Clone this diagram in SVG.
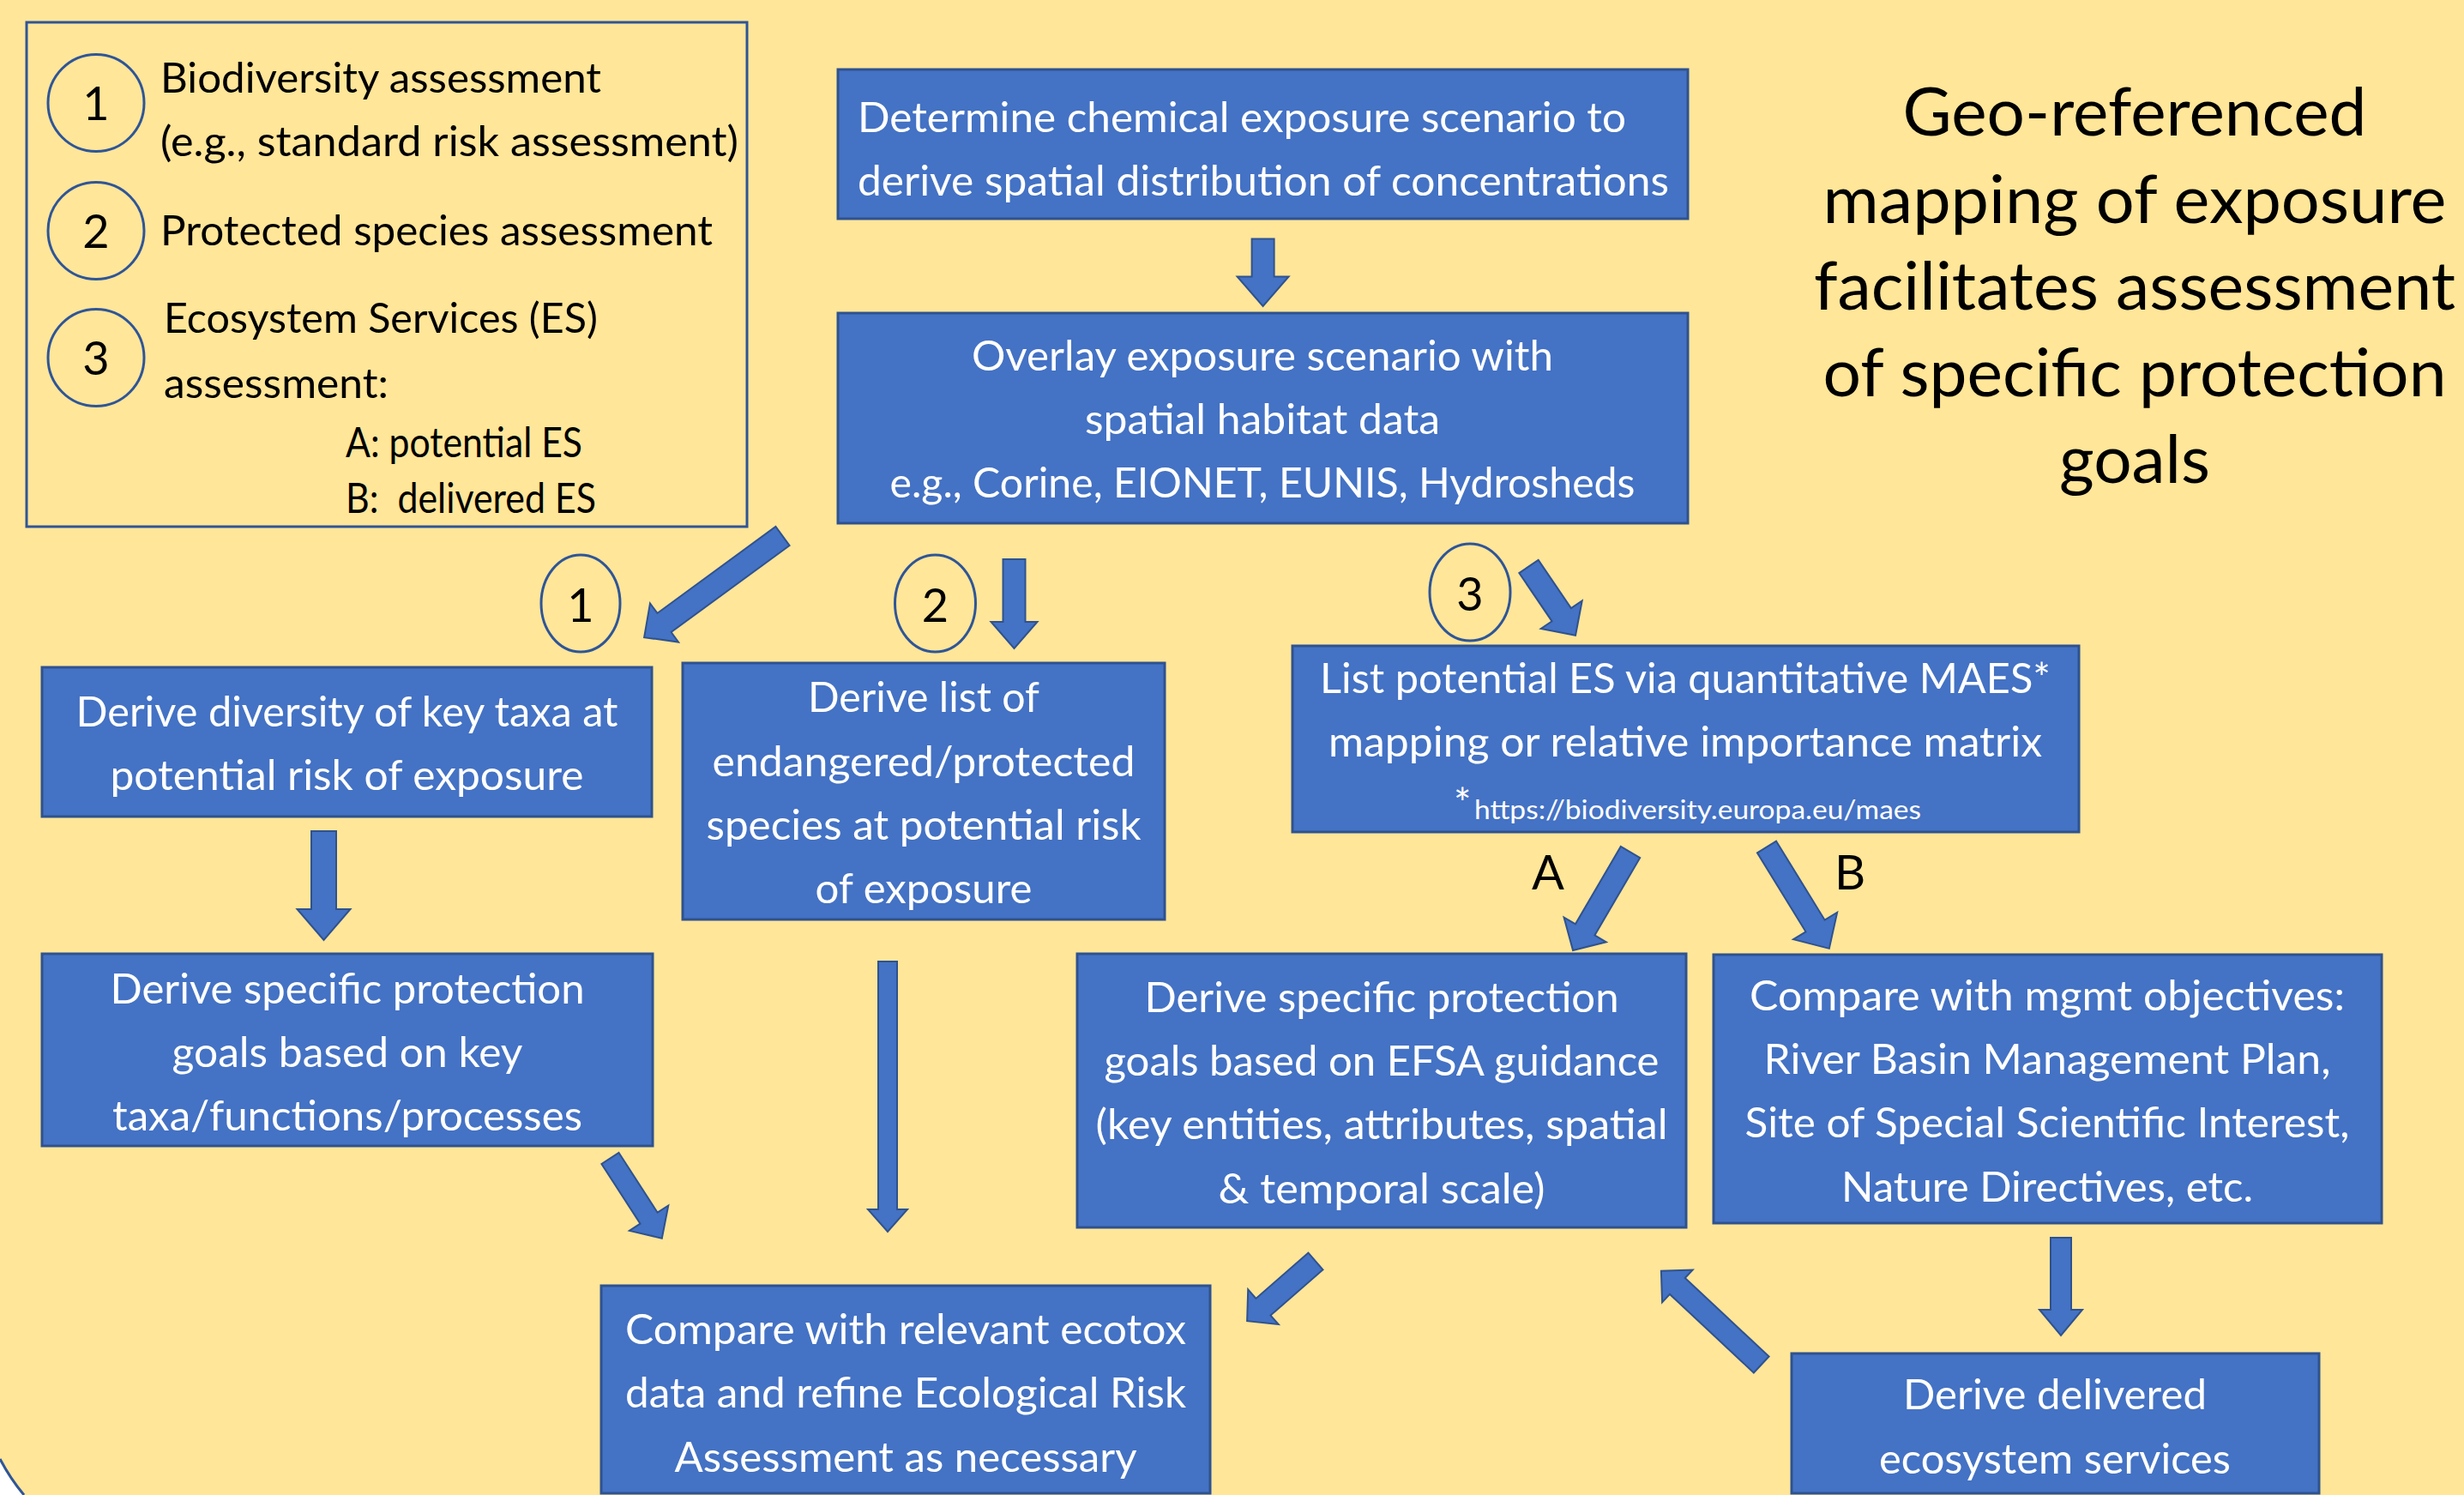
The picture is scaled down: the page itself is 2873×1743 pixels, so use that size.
<svg xmlns="http://www.w3.org/2000/svg" width="2873" height="1743" viewBox="0 0 2873 1743">
<defs>
<style>
.bg{fill:#FFE699}
.box{fill:#4472C4;stroke:#2F528F;stroke-width:3}
.leg{fill:none;stroke:#2F5597;stroke-width:3}
.circ{fill:none;stroke:#2F5597;stroke-width:3}
.arr{fill:#4472C4;stroke:#2F528F;stroke-width:2;stroke-linejoin:miter}
.t{font-family:Lato,"Liberation Sans",sans-serif;font-size:48px;fill:#FFFFFF;text-anchor:middle}
.tl{font-family:Lato,"Liberation Sans",sans-serif;font-size:48px;fill:#FFFFFF}
.lg{font-family:Lato,"Liberation Sans",sans-serif;font-size:49px;fill:#000000}
.num{font-family:Lato,"Liberation Sans",sans-serif;font-size:54px;fill:#000000;text-anchor:middle}
.ttl{font-family:Lato,"Liberation Sans",sans-serif;font-size:78px;fill:#000000;text-anchor:middle}
.ab{font-family:Lato,"Liberation Sans",sans-serif;font-size:56px;fill:#000000;text-anchor:middle}
.url{font-family:Lato,"Liberation Sans",sans-serif;font-size:30px;fill:#FFFFFF}
</style>
</defs>
<rect class="bg" x="0" y="0" width="2873" height="1743"/>
<path d="M0,1701 Q12,1724 28,1743 L0,1743 Z" fill="#FFFFFF"/>
<path d="M0,1701 Q12,1724 28,1743" fill="none" stroke="#2F5597" stroke-width="3"/>

<g id="legend">
<rect class="leg" x="31" y="26" width="840" height="588"/>
<ellipse class="circ" cx="112" cy="120" rx="56" ry="56.5"/>
<text class="num" x="112" y="140">1</text>
<ellipse class="circ" cx="112" cy="269" rx="56" ry="56.5"/>
<text class="num" x="112" y="289">2</text>
<ellipse class="circ" cx="112" cy="417" rx="56" ry="56.5"/>
<text class="num" x="112" y="437">3</text>
<text class="lg" x="187" y="108" textLength="514" lengthAdjust="spacingAndGlyphs">Biodiversity assessment</text>
<text class="lg" x="187" y="182" textLength="674" lengthAdjust="spacingAndGlyphs">(e.g., standard risk assessment)</text>
<text class="lg" x="187" y="286" textLength="644" lengthAdjust="spacingAndGlyphs">Protected species assessment</text>
<text class="lg" x="191" y="388" textLength="506" lengthAdjust="spacingAndGlyphs">Ecosystem Services (ES)</text>
<text class="lg" x="191" y="464" textLength="262" lengthAdjust="spacingAndGlyphs">assessment:</text>
<text class="lg" x="403" y="533" textLength="276" lengthAdjust="spacingAndGlyphs">A: potential ES</text>
<text class="lg" x="403" y="598" textLength="292" lengthAdjust="spacingAndGlyphs" style="white-space:pre">B:  delivered ES</text>
</g>

<g id="title">
<text class="ttl" x="2489" y="158" textLength="541" lengthAdjust="spacingAndGlyphs">Geo-referenced</text>
<text class="ttl" x="2489" y="260" textLength="727" lengthAdjust="spacingAndGlyphs">mapping of exposure</text>
<text class="ttl" x="2489" y="361" textLength="748" lengthAdjust="spacingAndGlyphs">facilitates assessment</text>
<text class="ttl" x="2489" y="462" textLength="727" lengthAdjust="spacingAndGlyphs">of specific protection</text>
<text class="ttl" x="2489" y="563" textLength="176" lengthAdjust="spacingAndGlyphs">goals</text>
</g>

<g id="n_exposure">
<rect class="box" x="977" y="81" width="991" height="174"/>
<text class="tl" x="1000" y="154" textLength="896" lengthAdjust="spacingAndGlyphs">Determine chemical exposure scenario to</text>
<text class="tl" x="1000" y="228" textLength="946" lengthAdjust="spacingAndGlyphs">derive spatial distribution of concentrations</text>
</g>

<g id="n_overlay">
<rect class="box" x="977" y="365" width="991" height="245"/>
<text class="t" x="1472" y="432" textLength="678" lengthAdjust="spacingAndGlyphs">Overlay exposure scenario with</text>
<text class="t" x="1472" y="506" textLength="414" lengthAdjust="spacingAndGlyphs">spatial habitat data</text>
<text class="t" x="1472" y="580" textLength="869" lengthAdjust="spacingAndGlyphs">e.g., Corine, EIONET, EUNIS, Hydrosheds</text>
</g>

<g id="m1">
<ellipse class="circ" cx="677" cy="703.5" rx="46" ry="56.5"/>
<text class="num" x="677" y="725">1</text>
</g>
<g id="m2">
<ellipse class="circ" cx="1090.5" cy="703.5" rx="47" ry="56.5"/>
<text class="num" x="1090.5" y="725">2</text>
</g>
<g id="m3">
<ellipse class="circ" cx="1714" cy="690.5" rx="47" ry="56.5"/>
<text class="num" x="1714" y="712">3</text>
</g>

<g id="n_diversity">
<rect class="box" x="49" y="778" width="711" height="174"/>
<text class="t" x="404.5" y="847" textLength="632" lengthAdjust="spacingAndGlyphs">Derive diversity of key taxa at</text>
<text class="t" x="404.5" y="921" textLength="552" lengthAdjust="spacingAndGlyphs">potential risk of exposure</text>
</g>

<g id="n_species">
<rect class="box" x="796" y="773" width="562" height="299"/>
<text class="t" x="1077" y="830" textLength="270" lengthAdjust="spacingAndGlyphs">Derive list of</text>
<text class="t" x="1077" y="905" textLength="493" lengthAdjust="spacingAndGlyphs">endangered/protected</text>
<text class="t" x="1077" y="979" textLength="507" lengthAdjust="spacingAndGlyphs">species at potential risk</text>
<text class="t" x="1077" y="1053" textLength="253" lengthAdjust="spacingAndGlyphs">of exposure</text>
</g>

<g id="n_potential_es">
<rect class="box" x="1507" y="753" width="917" height="217"/>
<text class="t" x="1965" y="808" textLength="852" lengthAdjust="spacingAndGlyphs">List potential ES via quantitative MAES*</text>
<text class="t" x="1965" y="882" textLength="832" lengthAdjust="spacingAndGlyphs">mapping or relative importance matrix</text>
<text class="tl" x="1695" y="954">*</text>
<text class="url" x="1719" y="955" textLength="521" lengthAdjust="spacingAndGlyphs">https://biodiversity.europa.eu/maes</text>
</g>

<text class="ab" x="1805" y="1037">A</text>
<text class="ab" x="2157" y="1037">B</text>

<g id="n_goals_taxa">
<rect class="box" x="49" y="1112" width="712" height="224"/>
<text class="t" x="405" y="1170" textLength="553" lengthAdjust="spacingAndGlyphs">Derive specific protection</text>
<text class="t" x="405" y="1244" textLength="409" lengthAdjust="spacingAndGlyphs">goals based on key</text>
<text class="t" x="405" y="1318" textLength="548" lengthAdjust="spacingAndGlyphs">taxa/functions/processes</text>
</g>

<g id="n_goals_efsa">
<rect class="box" x="1256" y="1112" width="710" height="319"/>
<text class="t" x="1611" y="1180" textLength="553" lengthAdjust="spacingAndGlyphs">Derive specific protection</text>
<text class="t" x="1611" y="1254" textLength="647" lengthAdjust="spacingAndGlyphs">goals based on EFSA guidance</text>
<text class="t" x="1611" y="1328" textLength="667" lengthAdjust="spacingAndGlyphs">(key entities, attributes, spatial</text>
<text class="t" x="1611" y="1403" textLength="381" lengthAdjust="spacingAndGlyphs">&amp; temporal scale)</text>
</g>

<g id="n_mgmt">
<rect class="box" x="1998" y="1113" width="779" height="313"/>
<text class="t" x="2387" y="1178" textLength="694" lengthAdjust="spacingAndGlyphs">Compare with mgmt objectives:</text>
<text class="t" x="2387" y="1252" textLength="661" lengthAdjust="spacingAndGlyphs">River Basin Management Plan,</text>
<text class="t" x="2387" y="1326" textLength="705" lengthAdjust="spacingAndGlyphs">Site of Special Scientific Interest,</text>
<text class="t" x="2387" y="1401" textLength="480" lengthAdjust="spacingAndGlyphs">Nature Directives, etc.</text>
</g>

<g id="n_delivered">
<rect class="box" x="2089" y="1578" width="615" height="163"/>
<text class="t" x="2396" y="1643" textLength="354" lengthAdjust="spacingAndGlyphs">Derive delivered</text>
<text class="t" x="2396" y="1718" textLength="410" lengthAdjust="spacingAndGlyphs">ecosystem services</text>
</g>

<g id="n_compare">
<rect class="box" x="701" y="1499" width="710" height="242"/>
<text class="t" x="1056" y="1567" textLength="654" lengthAdjust="spacingAndGlyphs">Compare with relevant ecotox</text>
<text class="t" x="1056" y="1641" textLength="654" lengthAdjust="spacingAndGlyphs">data and refine Ecological Risk</text>
<text class="t" x="1056" y="1716" textLength="539" lengthAdjust="spacingAndGlyphs">Assessment as necessary</text>
</g>

<g id="connectors">
<polygon class="arr" transform="translate(1472.6,278.5) rotate(90)" points="0,-13 44,-13 44,-30 78.5,0 44,30 44,13 0,13"/>
<polygon class="arr" transform="translate(912.5,625) rotate(143.8)" points="0,-13.7 171,-13.7 171,-28 200,0 171,28 171,13.7 0,13.7"/>
<polygon class="arr" transform="translate(1182.5,652) rotate(90)" points="0,-13 73,-13 73,-27 104,0 73,27 73,13 0,13"/>
<polygon class="arr" transform="translate(1782.5,660.5) rotate(55.8)" points="0,-13.5 68,-13.5 68,-29 97,0 68,29 68,13.5 0,13.5"/>
<polygon class="arr" transform="translate(377.5,969) rotate(90)" points="0,-14.5 91,-14.5 91,-31 127,0 91,31 91,14.5 0,14.5"/>
<polygon class="arr" transform="translate(711.5,1350.5) rotate(57.1)" points="0,-12 83,-12 83,-27 111,0 83,27 83,12 0,12"/>
<polygon class="arr" transform="translate(1035,1121) rotate(90)" points="0,-11 289,-11 289,-23 315,0 289,23 289,11 0,11"/>
<polygon class="arr" transform="translate(1901,993.5) rotate(120.3)" points="0,-13 104.7,-13 104.7,-28.5 132.7,0 104.7,28.5 104.7,13 0,13"/>
<polygon class="arr" transform="translate(2060,987.5) rotate(58.4)" points="0,-13 108,-13 108,-30 139,0 108,30 108,13 0,13"/>
<polygon class="arr" transform="translate(1534,1470.5) rotate(138.9)" points="0,-13 81,-13 81,-27 106,0 81,27 81,13 0,13"/>
<polygon class="arr" transform="translate(2053.7,1591) rotate(-136.9)" points="0,-13 134,-13 134,-26 160,0 134,26 134,13 0,13"/>
<polygon class="arr" transform="translate(2403,1443) rotate(90)" points="0,-12 84,-12 84,-25 114,0 84,25 84,12 0,12"/>
</g>
</svg>
